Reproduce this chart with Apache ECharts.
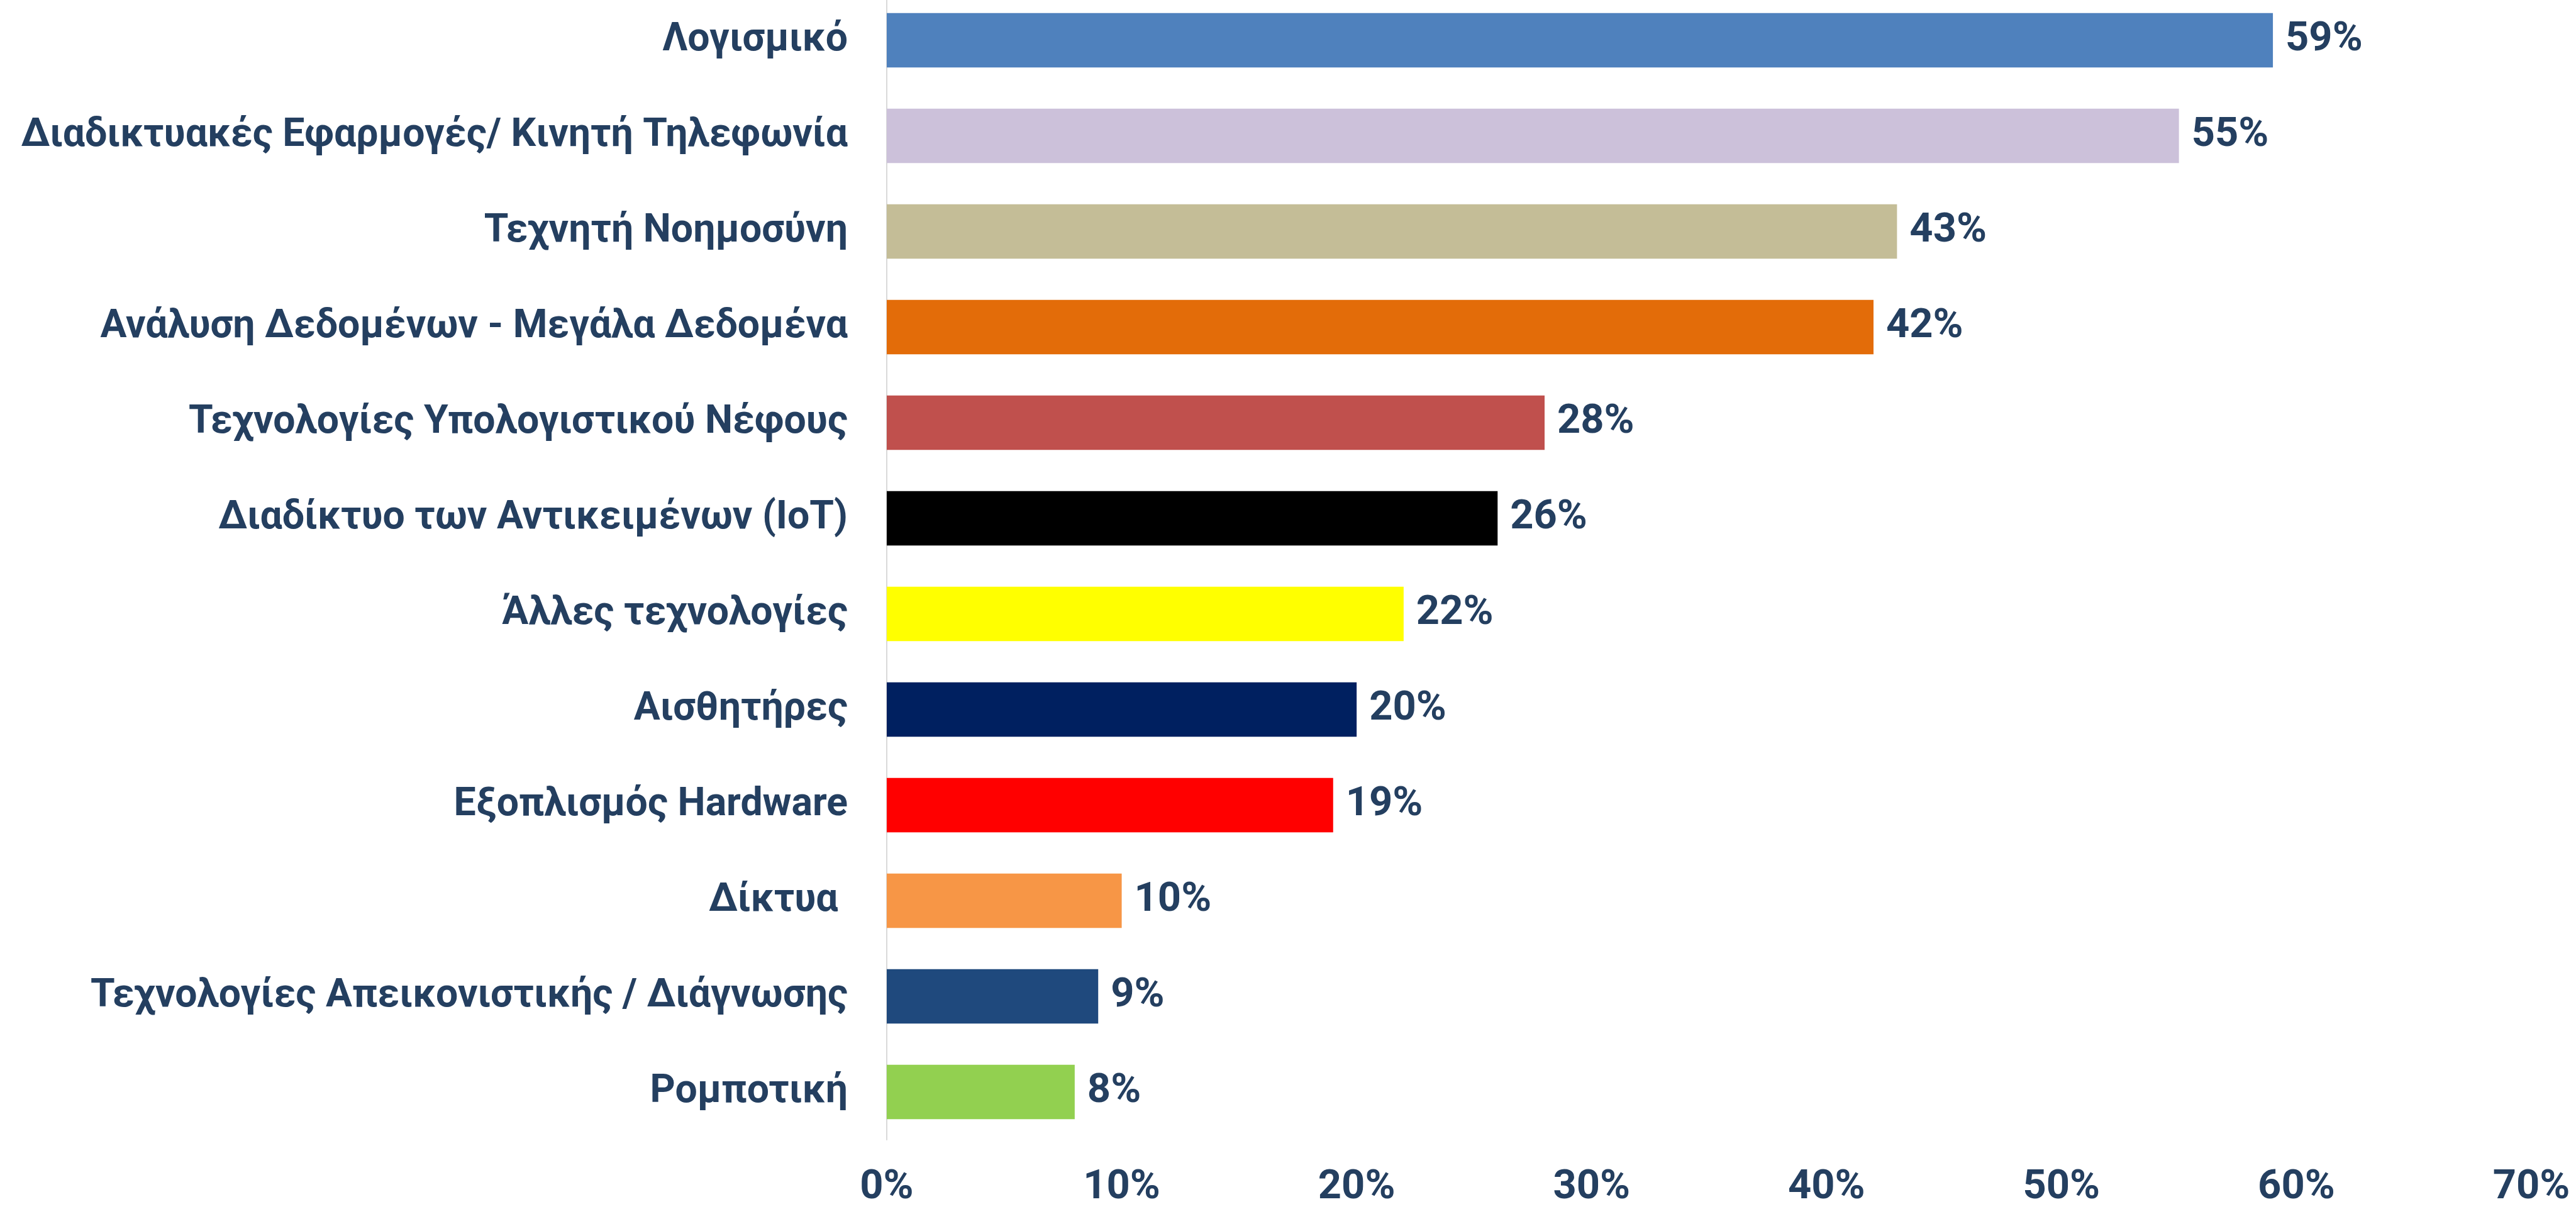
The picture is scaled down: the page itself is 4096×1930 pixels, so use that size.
<!DOCTYPE html>
<html>
<head>
<meta charset="utf-8">
<script src="https://cdn.jsdelivr.net/npm/echarts@6/dist/echarts.min.js"></script>
<style>
  html, body { margin: 0; padding: 0; background: #fff; overflow: hidden; }
  #chart { position: absolute; left: 0; top: -12px; width: 4096px; height: 1942px; }
</style>
</head>
<body>
<div id="chart"></div>
<script>
const CATEGORIES = [
  'Λογισμικό',
  'Διαδικτυακές Εφαρμογές/ Κινητή Τηλεφωνία',
  'Τεχνητή Νοημοσύνη',
  'Ανάλυση Δεδομένων - Μεγάλα Δεδομένα',
  'Τεχνολογίες Υπολογιστικού Νέφους',
  'Διαδίκτυο των Αντικειμένων (IoT)',
  'Άλλες τεχνολογίες',
  'Αισθητήρες',
  'Εξοπλισμός Hardware',
  'Δίκτυα ',
  'Τεχνολογίες Απεικονιστικής / Διάγνωσης',
  'Ρομποτική'
]
const VALUES = [59, 55, 43, 42, 28, 26, 22, 20, 19, 10, 9, 8]
const BAR_COLORS = [
  '#4F81BD', '#CCC1DA', '#C4BD97', '#E36C09', '#C0504D', '#000000',
  '#FFFF00', '#002060', '#FF0000', '#F79646', '#1F497D', '#92D050'
]
const X_TICKS = [0, 10, 20, 30, 40, 50, 60, 70]

const TEXT = '#243F60'
const FONT = 'Roboto, "Noto Sans", sans-serif'

const chart = echarts.init(document.getElementById('chart'))
chart.setOption({
  animation: false,
  backgroundColor: '#fff',
  grid: { left: 1410, right: 71, top: 0, bottom: 118, containLabel: false },
  xAxis: {
    type: 'value',
    min: X_TICKS[0],
    max: X_TICKS[X_TICKS.length - 1],
    interval: 10,
    splitLine: { show: false },
    axisLine: { show: false },
    axisTick: { show: false },
    axisLabel: {
      margin: 44,
      color: TEXT,
      fontFamily: FONT,
      fontWeight: 'bold',
      fontSize: 65,
      formatter: '{value}%'
    }
  },
  yAxis: {
    type: 'category',
    inverse: true,
    data: CATEGORIES,
    axisLine: { show: true, lineStyle: { color: '#D9D9D9', width: 2 } },
    axisTick: { show: false },
    axisLabel: {
      margin: 62,
      color: TEXT,
      fontFamily: FONT,
      fontWeight: 'bold',
      fontSize: 62.5
    }
  },
  series: [{
    type: 'bar',
    barCategoryGap: '43%',
    data: VALUES.map((v, i) => ({ value: v, itemStyle: { color: BAR_COLORS[i] } })),
    label: {
      show: true,
      position: 'right',
      distance: 20,
      color: TEXT,
      fontFamily: FONT,
      fontWeight: 'bold',
      fontSize: 65,
      formatter: '{c}%'
    }
  }]
})
</script>
</body>
</html>
